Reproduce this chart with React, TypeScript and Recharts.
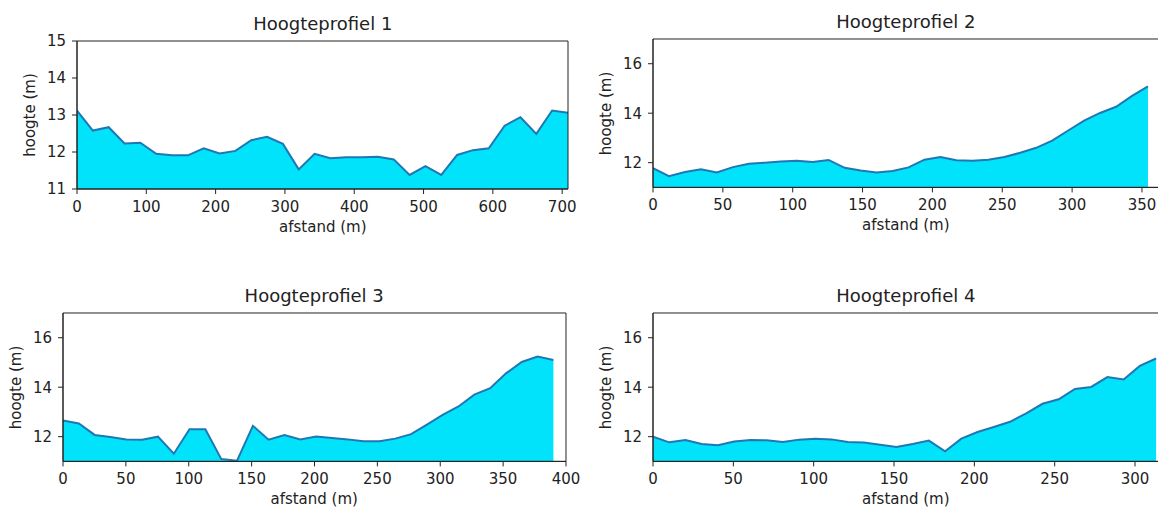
import React from "react";
import { AreaChart, Area, XAxis, YAxis, ReferenceArea } from "recharts";

// ---------- data ----------
const P1_DIST = [0, 22.9, 45.7, 68.6, 91.4, 114.3, 137.1, 160, 182.8, 205.7, 228.5, 251.4, 274.2, 297.1, 319.9, 342.8, 365.6, 388.5, 411.3, 434.2, 457, 479.9, 502.7, 525.6, 548.4, 571.3, 594.1, 617, 639.8, 662.7, 685.5, 708.4];
const P1_HEIGHT = [13.12, 12.58, 12.67, 12.23, 12.25, 11.95, 11.91, 11.91, 12.1, 11.96, 12.03, 12.32, 12.41, 12.22, 11.53, 11.95, 11.83, 11.86, 11.86, 11.87, 11.8, 11.38, 11.62, 11.38, 11.92, 12.05, 12.1, 12.71, 12.94, 12.49, 13.12, 13.06];

const P2_DIST = [0, 11.4, 22.9, 34.3, 45.7, 57.2, 68.6, 80, 91.4, 102.9, 114.3, 125.7, 137.2, 148.6, 160, 171.5, 182.9, 194.3, 205.7, 217.2, 228.6, 240, 251.5, 262.9, 274.3, 285.7, 297.2, 308.6, 320, 331.5, 342.9, 354.3];
const P2_HEIGHT = [11.78, 11.45, 11.62, 11.73, 11.6, 11.82, 11.96, 12.0, 12.05, 12.08, 12.03, 12.11, 11.79, 11.68, 11.6, 11.66, 11.81, 12.12, 12.23, 12.1, 12.08, 12.12, 12.23, 12.4, 12.6, 12.89, 13.3, 13.7, 14.01, 14.26, 14.7, 15.08];

const P3_DIST = [0, 12.6, 25.2, 37.7, 50.3, 62.9, 75.5, 88.1, 100.6, 113.2, 125.8, 138.4, 151, 163.5, 176.1, 188.7, 201.3, 213.9, 226.5, 239, 251.6, 264.2, 276.8, 289.4, 301.9, 314.5, 327.1, 339.7, 352.3, 364.8, 377.4, 390];
const P3_HEIGHT = [12.65, 12.53, 12.07, 11.99, 11.89, 11.88, 12.0, 11.31, 12.3, 12.3, 11.1, 11.03, 12.44, 11.88, 12.07, 11.89, 12.01, 11.95, 11.89, 11.81, 11.81, 11.92, 12.1, 12.49, 12.88, 13.22, 13.7, 13.96, 14.56, 15.02, 15.24, 15.1];

const P4_DIST = [0, 10.1, 20.2, 30.3, 40.4, 50.5, 60.6, 70.7, 80.8, 90.9, 101, 111.1, 121.2, 131.3, 141.4, 151.5, 161.6, 171.7, 181.8, 191.9, 202, 212.1, 222.2, 232.3, 242.4, 252.5, 262.6, 272.7, 282.8, 292.9, 303, 313.1];
const P4_HEIGHT = [12.0, 11.77, 11.86, 11.7, 11.65, 11.8, 11.86, 11.85, 11.78, 11.88, 11.92, 11.89, 11.78, 11.76, 11.67, 11.58, 11.7, 11.84, 11.41, 11.92, 12.19, 12.39, 12.6, 12.94, 13.33, 13.51, 13.93, 14.01, 14.41, 14.31, 14.86, 15.16];

const TITLES = ["Hoogteprofiel 1", "Hoogteprofiel 2", "Hoogteprofiel 3", "Hoogteprofiel 4"];
const X_LABEL = "afstand (m)";
const Y_LABEL = "hoogte (m)";

const P1_XTICKS = [0, 100, 200, 300, 400, 500, 600, 700];
const P2_XTICKS = [0, 50, 100, 150, 200, 250, 300, 350];
const P3_XTICKS = [0, 50, 100, 150, 200, 250, 300, 350, 400];
const P4_XTICKS = [0, 50, 100, 150, 200, 250, 300];
const P1_YTICKS = [11, 12, 13, 14, 15];
const YTICKS_WIDE = [12, 14, 16];

// ---------- layout / style ----------
const FONT = "'DejaVu Sans', sans-serif";
const INK = "#222";
const FILL = "#00e3fa";
const LINE = "#1f77b4";

type Panel = {
  title: string;
  dist: number[];
  height: number[];
  xDomain: [number, number];
  xTicks: number[];
  yDomain: [number, number];
  yTicks: number[];
  left: number;
  top: number;
  right: number;
  bottom: number;
};

const PANELS: Panel[] = [
  { title: TITLES[0], dist: P1_DIST, height: P1_HEIGHT, xDomain: [0, 708.4], xTicks: P1_XTICKS, yDomain: [11, 15], yTicks: P1_YTICKS, left: 77.3, top: 41, right: 568.3, bottom: 189 },
  { title: TITLES[1], dist: P2_DIST, height: P2_HEIGHT, xDomain: [0, 362.4], xTicks: P2_XTICKS, yDomain: [11, 17], yTicks: YTICKS_WIDE, left: 652.7, top: 39.3, right: 1159, bottom: 187.7 },
  { title: TITLES[2], dist: P3_DIST, height: P3_HEIGHT, xDomain: [0, 400], xTicks: P3_XTICKS, yDomain: [11, 17], yTicks: YTICKS_WIDE, left: 62.7, top: 313.3, right: 565.7, bottom: 461.7 },
  { title: TITLES[3], dist: P4_DIST, height: P4_HEIGHT, xDomain: [0, 315.1], xTicks: P4_XTICKS, yDomain: [11, 17], yTicks: YTICKS_WIDE, left: 652.7, top: 313.3, right: 1159, bottom: 461.7 },
];

const PAD_L = 60;
const PAD_T = 10;
const PAD_R = 24;
const PAD_B = 30;

function ProfileChart({ p }: { p: Panel }) {
  const rows = p.dist.map((d, i) => ({ x: d, h: p.height[i] }));
  const w = p.right - p.left + PAD_L + PAD_R;
  const h = p.bottom - p.top + PAD_T + PAD_B;
  const tickStyle = { fill: INK, fontSize: 15, fontFamily: FONT };
  return (
    <div style={{ position: "absolute", left: p.left - PAD_L, top: p.top - PAD_T, width: w, height: h }}>
      <AreaChart width={w} height={h} data={rows} margin={{ top: PAD_T, right: PAD_R, left: 0, bottom: 0 }}>
        <XAxis
          dataKey="x"
          type="number"
          domain={p.xDomain}
          ticks={p.xTicks}
          interval={0}
          allowDataOverflow
          height={PAD_B}
          tick={tickStyle}
          tickSize={5}
          tickMargin={7}
          stroke={INK}
          tickLine={{ stroke: INK }}
          axisLine={{ stroke: INK }}
        />
        <YAxis
          type="number"
          domain={p.yDomain}
          ticks={p.yTicks}
          interval={0}
          allowDataOverflow
          width={PAD_L}
          tick={tickStyle}
          tickSize={5}
          tickMargin={6}
          stroke={INK}
          tickLine={{ stroke: INK }}
          axisLine={{ stroke: INK }}
        />
        <Area
          type="linear"
          dataKey="h"
          stroke={LINE}
          strokeWidth={2}
          fill={FILL}
          fillOpacity={1}
          dot={false}
          activeDot={false}
          isAnimationActive={false}
        />
        <ReferenceArea
          x1={p.xDomain[0]}
          x2={p.xDomain[1]}
          y1={p.yDomain[0]}
          y2={p.yDomain[1]}
          fill="none"
          fillOpacity={0}
          stroke={INK}
          strokeWidth={1}
          ifOverflow="visible"
        />
      </AreaChart>
    </div>
  );
}

export default function App() {
  return (
    <div
      style={{
        position: "absolute",
        left: 0,
        top: 0,
        width: 1158,
        height: 508,
        overflow: "hidden",
        background: "#fff",
        fontFamily: FONT,
      }}
    >
      {PANELS.map((p, i) => (
        <ProfileChart key={i} p={p} />
      ))}
      <svg
        width={1158}
        height={508}
        style={{ position: "absolute", left: 0, top: 0, pointerEvents: "none" }}
      >
        {PANELS.map((p, i) => {
          const cx = (p.left + p.right) / 2;
          const cy = (p.top + p.bottom) / 2;
          const yx = p.left - 46;
          return (
            <g key={i} fontFamily={FONT} fill={INK}>
              <text x={cx} y={p.top - 11} textAnchor="middle" fontSize={18}>
                {p.title}
              </text>
              <text x={cx} y={p.bottom + 42.5} textAnchor="middle" fontSize={15}>
                {X_LABEL}
              </text>
              <text
                x={yx}
                y={cy}
                dy="0.27em"
                textAnchor="middle"
                fontSize={15}
                transform={`rotate(-90 ${yx} ${cy})`}
              >
                {Y_LABEL}
              </text>
            </g>
          );
        })}
      </svg>
    </div>
  );
}
